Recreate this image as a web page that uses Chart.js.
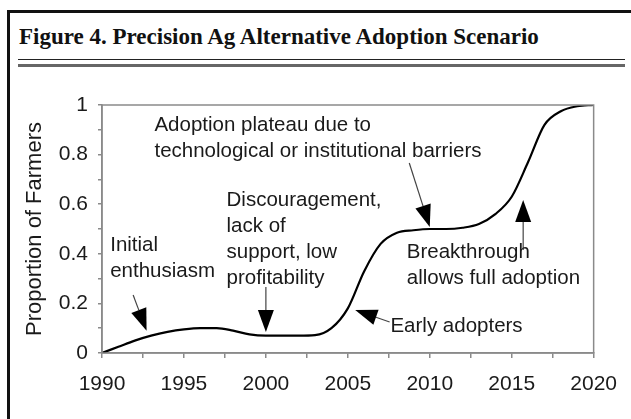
<!DOCTYPE html>
<html>
<head>
<meta charset="utf-8">
<title>Figure 4. Precision Ag Alternative Adoption Scenario</title>
<script src="https://cdn.jsdelivr.net/npm/chart.js@4.4.1/dist/chart.umd.min.js"></script>
<style>
    html, body { margin: 0; padding: 0; background: #fff; }
    body { width: 631px; height: 419px; position: relative; overflow: hidden; }
    .frame { position: absolute; left: 7px; top: 10px; right: -5px; bottom: -5px;
             border-left: 3px solid #111; border-top: 3px solid #111; }
    .fig-title { position: absolute; left: 19px; top: 24px; margin: 0;
                 font: bold 23px "Liberation Serif", "DejaVu Serif", serif; color: #111; white-space: nowrap; }
    .rule-thin { position: absolute; left: 18px; width: 607px; top: 59px; height: 0; border-top: 1.5px solid #222; }
    .rule-thick { position: absolute; left: 18px; width: 607px; top: 64px; height: 0; border-top: 3px solid #666; }
    #chart { position: absolute; left: 0; top: 0; }
</style>
</head>
<body>
<div class="frame"></div>
<h1 class="fig-title">Figure 4. Precision Ag Alternative Adoption Scenario</h1>
<div class="rule-thin"></div>
<div class="rule-thick"></div>
<canvas id="chart" width="631" height="419"></canvas>
<script>
// one point per year
const years = [1990, 1991, 1992, 1993, 1994, 1995, 1996, 1997, 1998, 1999,
               2000, 2001, 2002, 2003, 2004, 2005, 2006, 2007, 2008, 2009,
               2010, 2011, 2012, 2013, 2014, 2015, 2016, 2017, 2018, 2019, 2020];
const adoption = [0, 0.025, 0.05, 0.07, 0.085, 0.095, 0.1, 0.1, 0.09, 0.075,
                  0.07, 0.07, 0.07, 0.072, 0.1, 0.18, 0.33, 0.44, 0.485, 0.495,
                  0.5, 0.5, 0.505, 0.52, 0.56, 0.63, 0.77, 0.92, 0.975, 0.995, 1];

const yLabelValues = [0, 0.2, 0.4, 0.6, 0.8, 1];
const xLabelValues = [1990, 1995, 2000, 2005, 2010, 2015, 2020];

// annotation text: lines, anchored at [year, value] (left edge, middle of first line)
const notes = [
    { at: [1990.5, 0.435], lines: ['Initial', 'enthusiasm'] },
    { at: [1997.6, 0.617], lines: ['Discouragement,', 'lack of', 'support, low', 'profitability'] },
    { at: [1993.2, 0.919], lines: ['Adoption plateau due to', 'technological or institutional barriers'] },
    { at: [2008.6, 0.407], lines: ['Breakthrough', 'allows full adoption'] },
    { at: [2007.6, 0.107], lines: ['Early adopters'] }
];

// arrows: from [year, value] to tip [year, value]
const arrows = [
    { from: [1991.9, 0.234], to: [1992.72, 0.09] },
    { from: [2000.0, 0.266], to: [2000.0, 0.085] },
    { from: [2008.75, 0.766], to: [2010.0, 0.508] },
    { from: [2015.7, 0.415], to: [2015.7, 0.617] },
    { from: [2007.55, 0.125], to: [2005.45, 0.173] }
];

const FONT = "'Liberation Sans', Arial, sans-serif";
const INK = '#1a1a1a';
const AXIS = '#8a8a8a';

const annotationsPlugin = {
    id: 'annotations',
    afterDatasetsDraw(chart) {
        const { ctx, chartArea, scales: { x, y } } = chart;
        ctx.save();

        // box around plot area
        ctx.strokeStyle = AXIS;
        ctx.lineWidth = 1.5;
        ctx.strokeRect(chartArea.left, chartArea.top, chartArea.right - chartArea.left, chartArea.bottom - chartArea.top);

        // arrows
        arrows.forEach(a => {
            const x0 = x.getPixelForValue(a.from[0]), y0 = y.getPixelForValue(a.from[1]);
            const x1 = x.getPixelForValue(a.to[0]), y1 = y.getPixelForValue(a.to[1]);
            const ang = Math.atan2(y1 - y0, x1 - x0);
            const len = 22, half = 8;
            const bx = x1 - len * Math.cos(ang), by = y1 - len * Math.sin(ang);
            ctx.strokeStyle = '#444';
            ctx.lineWidth = 1.2;
            ctx.beginPath();
            ctx.moveTo(x0, y0);
            ctx.lineTo(bx, by);
            ctx.stroke();
            ctx.fillStyle = '#000';
            ctx.beginPath();
            ctx.moveTo(x1, y1);
            ctx.lineTo(bx + half * Math.sin(ang), by - half * Math.cos(ang));
            ctx.lineTo(bx - half * Math.sin(ang), by + half * Math.cos(ang));
            ctx.closePath();
            ctx.fill();
        });

        // notes
        ctx.fillStyle = INK;
        ctx.font = `20.5px ${FONT}`;
        ctx.textAlign = 'left';
        ctx.textBaseline = 'middle';
        notes.forEach(n => {
            const px = x.getPixelForValue(n.at[0]);
            const py = y.getPixelForValue(n.at[1]);
            n.lines.forEach((line, i) => ctx.fillText(line, px, py + i * 26));
        });
        ctx.restore();
    }
};

new Chart(document.getElementById('chart'), {
    type: 'line',
    data: {
        datasets: [{
            data: years.map((yr, i) => ({ x: yr, y: adoption[i] })),
            borderColor: '#000',
            borderWidth: 2.2,
            pointRadius: 0,
            fill: false,
            cubicInterpolationMode: 'monotone'
        }]
    },
    options: {
        responsive: false,
        animation: false,
        layout: { padding: { left: 0, top: 105, right: 32, bottom: 0 } },
        plugins: {
            legend: { display: false },
            tooltip: { enabled: false }
        },
        scales: {
            x: {
                type: 'linear',
                min: 1990,
                max: 2020,
                ticks: {
                    stepSize: 2.5,
                    autoSkip: false,
                    maxRotation: 0,
                    padding: 14,
                    color: INK,
                    font: { family: FONT, size: 21 },
                    callback: v => xLabelValues.includes(v) ? String(v) : ''
                },
                grid: { drawOnChartArea: false, tickLength: 5, color: AXIS, lineWidth: 1.5 },
                border: { color: AXIS, width: 1.5 },
                afterFit: s => { s.height = 66; }
            },
            y: {
                min: 0,
                max: 1,
                ticks: {
                    stepSize: 0.1,
                    autoSkip: false,
                    padding: 10,
                    color: INK,
                    font: { family: FONT, size: 21 },
                    callback: v => {
                        const r = Math.round(v * 10) / 10;
                        return yLabelValues.includes(r) ? String(r) : '';
                    }
                },
                grid: { drawOnChartArea: false, tickLength: 4, color: AXIS, lineWidth: 1.5 },
                border: { color: AXIS, width: 1.5 },
                title: {
                    display: true,
                    text: 'Proportion of Farmers',
                    color: INK,
                    font: { family: FONT, size: 22 },
                    padding: { top: 22, bottom: 0 }
                },
                afterFit: s => { s.width = 102; }
            }
        }
    },
    plugins: [annotationsPlugin]
});
</script>
</body>
</html>
